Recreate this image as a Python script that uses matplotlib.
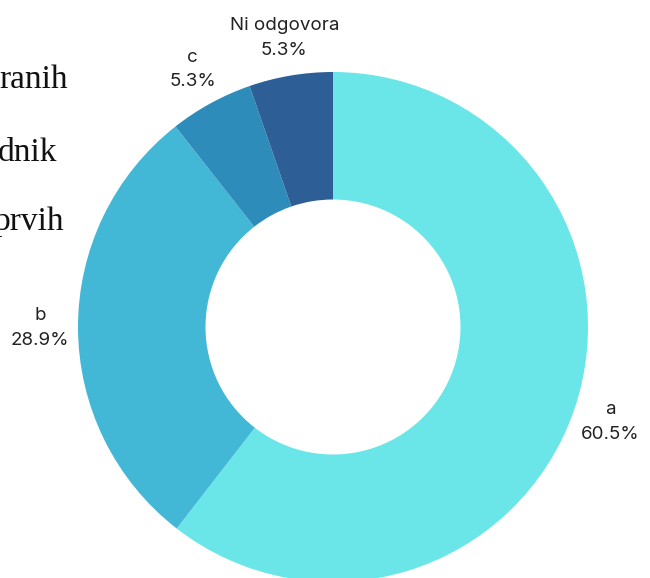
import numpy as np
import matplotlib
matplotlib.use("Agg")
import matplotlib.pyplot as plt

# chart data
labels = ["a", "b", "c", "Ni odgovora"]
values = [60.5, 28.9, 5.3, 5.3]
colors = ["#6AE5E8", "#43B7D6", "#2E8CBA", "#2D5E96"]

# cut-off text fragments on the left edge
side_texts = ["ranih", "dnik", "prvih"]
side_y = [80, 153, 222]
side_right = [68, 57, 64]

W, H = 650, 578
fig = plt.figure(figsize=(W / 100, H / 100), dpi=100)

cx, cy, R = 333, 327, 255
ax = fig.add_axes([(cx - R) / W, (H - cy - R) / H, 2 * R / W, 2 * R / H])

wedges, _ = ax.pie(values, colors=colors, startangle=90, counterclock=False,
                   radius=1.0, wedgeprops=dict(width=0.5, linewidth=0))
ax.set_xlim(-1, 1)
ax.set_ylim(-1, 1)
ax.axis("off")

for w, lab, v in zip(wedges, labels, values):
    mid = np.deg2rad((w.theta1 + w.theta2) / 2)
    r = 1.15
    ax.text(r * np.cos(mid), r * np.sin(mid), f"{lab}\n{v:.1f}%",
            ha="center", va="center", fontsize=13.5, family="Inter",
            color="#222222", linespacing=1.6, clip_on=False)

for t, y, xr in zip(side_texts, side_y, side_right):
    fig.text(xr / W, 1 - y / H, t, ha="right", va="center",
             fontsize=24, family="Liberation Serif", color="#111111")

fig.savefig("out.png", dpi=100)
